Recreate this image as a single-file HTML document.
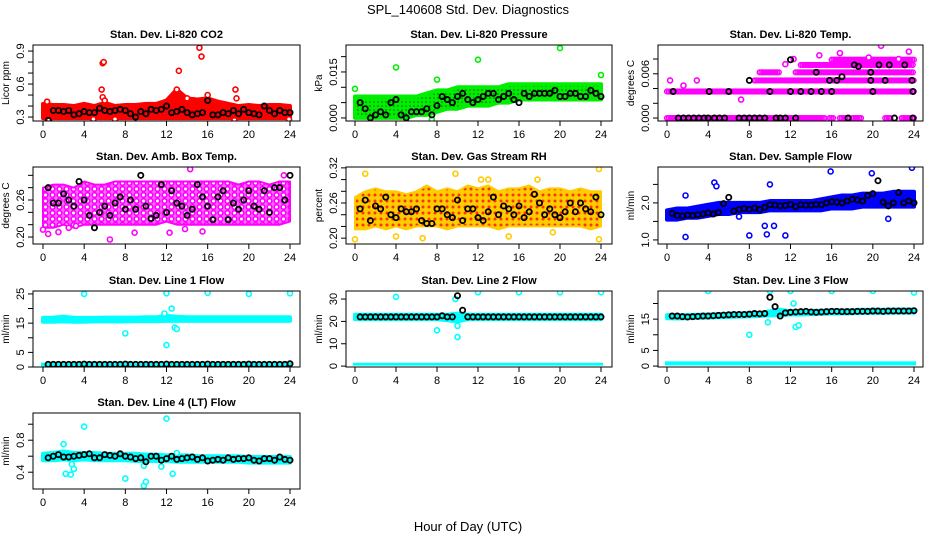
<!DOCTYPE html>
<html><head><meta charset="utf-8">
<style>
html,body{margin:0;padding:0;background:#fff;}
svg{display:block;font-family:"Liberation Sans",Arial,sans-serif;}
</style></head>
<body>
<svg id="chart" width="936" height="540" viewBox="0 0 936 540">
<defs>
<pattern id="pat-mag" patternUnits="userSpaceOnUse" width="7" height="6">
<rect width="7" height="6" fill="#ff66ff"/>
<circle cx="3.5" cy="3" r="2.3" fill="#fff" stroke="#ff00ff" stroke-width="1.6"/>
</pattern>
<pattern id="pat-rh" patternUnits="userSpaceOnUse" width="6" height="6">
<rect width="6" height="6" fill="#ffcc00"/>
<circle cx="3" cy="3" r="2.2" fill="#ff3300" stroke="#ffcc00" stroke-width="1.4"/>
</pattern>
<pattern id="pat-green" patternUnits="userSpaceOnUse" width="4" height="4">
<rect width="4" height="4" fill="#00ee00"/>
<circle cx="2" cy="2" r="0.8" fill="#006600"/>
</pattern>
</defs>
<text x="468" y="14" font-size="13" text-anchor="middle">SPL_140608  Std. Dev. Diagnostics</text>
<text x="468" y="531" font-size="13" text-anchor="middle">Hour of Day (UTC)</text>
</svg>
<script>
// ---- data ----
const hours = [0,4,8,12,16,20,24];
// CO2
const co2Lo = [0.29,0.29,0.29,0.29,0.29,0.29,0.29,0.29,0.29,0.29,0.29,0.29,0.29,0.29,0.29,0.29,0.29,0.29,0.29,0.29,0.29,0.29,0.29,0.29,0.29];
const co2Hi = [0.42,0.41,0.41,0.40,0.42,0.40,0.43,0.40,0.41,0.41,0.42,0.42,0.45,0.55,0.47,0.46,0.47,0.44,0.42,0.40,0.41,0.40,0.41,0.41,0.40];
const co2Black = [0.27,0.36,0.36,0.35,0.36,0.32,0.33,0.35,0.34,0.34,0.38,0.36,0.35,0.36,0.37,0.36,0.33,0.30,0.35,0.33,0.37,0.36,0.37,0.40,0.34,0.35,0.37,0.34,0.32,0.33,0.34,0.45,0.32,0.32,0.34,0.33,0.36,0.33,0.37,0.34,0.33,0.32,0.40,0.36,0.33,0.36,0.34,0.34];
const co2OutX = [0.4,5.8,5.9,5.7,5.8,6.0,13.2,13.0,15.2,15.4,16.0,18.7,18.8,14.0,4.9,7.0,18.6,23.9,0.6];
const co2OutY = [0.44,0.79,0.80,0.55,0.48,0.45,0.72,0.55,0.93,0.85,0.50,0.55,0.47,0.47,0.28,0.28,0.27,0.28,0.27];
// Pressure
const prLo = [0.000,0.000,0.000,0.000,0.000,0.000,0.001,0.001,0.002,0.003,0.003,0.004,0.004,0.004,0.005,0.005,0.006,0.006,0.006,0.006,0.006,0.006,0.006,0.006,0.006];
const prHi = [0.007,0.007,0.007,0.007,0.007,0.007,0.007,0.008,0.009,0.009,0.010,0.010,0.010,0.010,0.010,0.011,0.011,0.011,0.011,0.011,0.011,0.011,0.011,0.011,0.011];
const prBlack = [0.005,0.003,0.000,0.001,0.002,0.001,0.005,0.006,0.001,0.000,0.002,0.002,0.002,0.003,0.001,0.004,0.007,0.006,0.005,0.007,0.008,0.006,0.005,0.006,0.007,0.008,0.008,0.006,0.007,0.008,0.006,0.005,0.008,0.007,0.008,0.008,0.008,0.008,0.009,0.007,0.007,0.008,0.008,0.007,0.007,0.009,0.008,0.007];
const prOutX = [0,4.0,8.0,12.0,20.0,24.0,7.5];
const prOutY = [0.0095,0.0165,0.0125,0.019,0.0228,0.014,-0.0005];
// Li-820 Temp (discrete levels)
const tSegX0 = [0,15.8,16.8,18,21.2,22.8, 0,8.5, 9,12.5, 13,16];
const tSegX1 = [15.3,16.3,17.5,19,21.8,24, 24,24, 11,24, 24,24];
const tSegY  = [0,0,0,0,0,0, 0.0036,0.0051, 0.0062,0.0062, 0.0072,0.0079];
const tBlackX = [0.6,1.1,1.6,2.1,2.6,3.1,3.6,4.0,4.1,4.6,5.1,5.6,6.0,7.0,7.5,8.0,8.0,8.5,9.0,9.5,10.0,10.6,11.0,11.5,12.0,12.0,12.5,13.0,14.0,14.5,15.0,15.8,16.0,16.5,17.0,17.6,18.2,18.6,19.8,19.8,20.0,20.6,21.2,21.6,22.1,23.1,23.8,23.9,23.9];
const tBlackY = [0.0036,0,0,0,0,0,0,0,0.0036,0,0,0,0.0036,0,0,0,0.0051,0,0,0,0.0036,0,0,0,0.0036,0.0079,0,0.0036,0.0036,0.0062,0.0036,0.0051,0.0036,0.0051,0.0056,0,0.0072,0.0070,0.0062,0.0051,0.0036,0.0072,0.0051,0.0072,0,0.0072,0.0051,0.0036,0];
const tOutX = [0.3,1.6,2.9,7.2,11.5,12.3,14.8,16.8,19.6,20.8,22.5,23.5];
const tOutY = [0.0051,0.0044,0.0051,0.0025,0.0073,0.0080,0.0085,0.0088,0.0082,0.0098,0.0080,0.0090];
// Amb box temp
const abLo = [0.215,0.215,0.22,0.215,0.22,0.22,0.22,0.22,0.22,0.22,0.22,0.22,0.225,0.22,0.22,0.22,0.22,0.22,0.22,0.22,0.22,0.22,0.22,0.22,0.225];
const abHi = [0.28,0.285,0.285,0.28,0.29,0.285,0.285,0.29,0.29,0.29,0.29,0.29,0.29,0.29,0.29,0.29,0.29,0.29,0.29,0.285,0.29,0.29,0.285,0.29,0.29];
const abBlack = [0.28,0.255,0.255,0.27,0.26,0.25,0.29,0.26,0.235,0.215,0.24,0.25,0.235,0.255,0.265,0.245,0.26,0.245,0.30,0.25,0.23,0.235,0.285,0.24,0.275,0.255,0.25,0.235,0.245,0.285,0.265,0.25,0.228,0.265,0.275,0.228,0.255,0.245,0.26,0.275,0.25,0.245,0.275,0.24,0.28,0.28,0.26,0.30];
const abOutX = [0,0.5,1.5,2.5,3.2,6.5,8.9,12.3,13.8,15.5,14.3,23.4];
const abOutY = [0.212,0.205,0.208,0.215,0.218,0.196,0.207,0.207,0.213,0.209,0.31,0.30];
// Gas stream RH
const rhLo = [0.215,0.215,0.22,0.215,0.22,0.215,0.22,0.22,0.22,0.215,0.22,0.22,0.22,0.22,0.215,0.22,0.22,0.22,0.22,0.22,0.22,0.22,0.22,0.215,0.22];
const rhHi = [0.27,0.28,0.285,0.28,0.28,0.275,0.28,0.29,0.28,0.285,0.28,0.29,0.285,0.29,0.28,0.285,0.285,0.29,0.28,0.285,0.285,0.28,0.285,0.28,0.28];
const rhBlack = [0.25,0.265,0.23,0.255,0.25,0.27,0.24,0.235,0.25,0.245,0.245,0.25,0.23,0.225,0.225,0.25,0.25,0.24,0.235,0.265,0.23,0.25,0.25,0.235,0.23,0.245,0.27,0.24,0.255,0.25,0.24,0.255,0.235,0.245,0.275,0.26,0.24,0.25,0.24,0.235,0.245,0.26,0.245,0.26,0.25,0.245,0.27,0.24];
const rhOutX = [0,1.0,6.6,9.8,12.3,13.0,17.8,19.3,23.8,23.8,4.0,15.0];
const rhOutY = [0.198,0.31,0.20,0.31,0.30,0.30,0.30,0.21,0.318,0.198,0.203,0.203];
// Sample flow
const sfLo = [1.55,1.55,1.6,1.6,1.65,1.7,1.7,1.75,1.75,1.75,1.8,1.8,1.8,1.8,1.8,1.8,1.85,1.85,1.85,1.9,1.9,1.9,1.9,1.9,1.9];
const sfHi = [1.8,1.85,1.85,1.9,1.95,2.0,2.0,2.0,2.0,2.0,2.05,2.05,2.05,2.05,2.05,2.1,2.15,2.2,2.2,2.25,2.25,2.25,2.3,2.3,2.3];
const sfBlack = [1.72,1.66,1.65,1.67,1.66,1.68,1.70,1.73,1.70,1.74,1.98,2.15,1.78,1.82,1.85,1.83,1.86,1.82,1.88,1.95,1.94,1.92,1.93,1.96,1.90,1.95,1.94,1.94,1.96,1.95,2.00,2.03,2.02,2.00,2.05,2.10,2.08,2.05,2.20,2.25,2.60,2.02,1.92,2.00,2.28,2.00,2.05,2.00];
const sfOutX = [1.8,4.6,4.8,7.0,8.0,9.5,9.7,10.0,10.4,15.9,19.9,21.5,23.8,1.8,11.5];
const sfOutY = [2.20,2.55,2.45,1.63,1.12,1.38,1.15,2.50,1.38,2.85,2.80,1.57,2.95,1.08,1.12];
// Line 1 flow
const l1Lo = [15.5,15.5,15.6,15.5,15.5,15.6,15.6,15.6,15.6,15.7,15.7,15.7,15.8,15.8,15.8,15.8,15.8,15.8,15.8,15.8,15.8,15.8,15.8,15.8,15.8];
const l1Hi = [16.8,16.9,17.2,16.8,16.8,16.8,16.9,16.9,16.9,16.9,17.0,17.0,17.5,17.2,17.0,17.0,17.0,17.0,17.0,17.0,17.0,17.0,17.0,17.0,17.0];
const l1Black = [0.9,0.9,0.9,0.9,0.9,0.9,0.9,1.0,0.9,0.9,0.9,0.9,0.9,0.9,0.9,1.0,0.9,0.9,0.9,0.9,0.9,0.9,0.9,1.0,0.9,0.9,0.9,0.9,0.9,0.9,0.9,1.0,0.9,0.9,0.9,0.9,0.9,0.9,0.9,1.0,0.9,0.9,0.9,0.9,0.9,0.9,0.9,1.1];
const l1OutX = [4,12,16,20,24,8,12,12.5,12.8,13,11.8];
const l1OutY = [25,25.2,25.4,25,25.2,11.5,7.5,20,13.5,13,18.3];
// Line 2 flow
const l2Lo = [21,21,21,21,21,21,21,21,21,20.5,20,21,21,21,21,21,21,21,21,21,21,21,21,21,21];
const l2Hi = [23,23,23,23,23,23,23,23,23,23,23.5,23,23,23,23,23,23,23,23,23,23,23,23,23,23];
const l2Black = [22,22,22,22,22,22,22,22,22,22,22,22,22,22,22,22,22.5,22,22,31.5,25,22,22,22,22,22,22,22,22,22,22,22,22,22,22,22,22,22,22,22,22,22,22,22,22,22,22,22];
const l2OutX = [4,9.8,12,16,20,24,8,10,10];
const l2OutY = [31,30,33,33,33,33,16,13,18];
// Line 3 flow
const l3Lo = [15.3,15.2,15.3,15.4,15.5,15.6,15.7,15.8,15.9,16.0,16.2,16.3,16.5,16.5,16.6,16.7,16.8,16.8,16.9,17.0,17.0,17.0,17.1,17.1,17.1];
const l3Hi = [16.3,16.2,16.3,16.4,16.5,16.6,16.7,16.8,16.9,17.0,17.5,18.0,17.5,17.5,17.6,17.7,17.8,17.8,17.9,18.0,18.0,18.0,18.1,18.1,18.1];
const l3Black = [16,16,15.8,15.7,15.8,15.9,16.0,16.0,16.1,16.2,16.3,16.4,16.5,16.5,16.5,16.6,16.8,16.7,16.8,22,19,16,17,17.2,17.3,17.4,17.5,17.3,17.2,17.3,17.4,17.5,17.5,17.4,17.4,17.4,17.5,17.5,17.5,17.6,17.6,17.5,17.6,17.6,17.6,17.6,17.6,17.7];
const l3OutX = [4,10,12,16,20,24,8,9.8,12.3,12.5,12.8];
const l3OutY = [24,24,24,24,24,23.5,10,14,20,12.5,13];
// Line 4 (LT) flow
const l4Lo = [0.55,0.55,0.56,0.55,0.56,0.55,0.55,0.55,0.55,0.54,0.54,0.54,0.54,0.53,0.53,0.53,0.53,0.53,0.53,0.53,0.52,0.52,0.52,0.52,0.52];
const l4Hi = [0.63,0.64,0.66,0.64,0.64,0.64,0.63,0.63,0.63,0.63,0.62,0.62,0.61,0.61,0.61,0.60,0.60,0.60,0.60,0.60,0.59,0.59,0.59,0.59,0.59];
const l4Black = [0.58,0.60,0.62,0.59,0.59,0.60,0.61,0.62,0.63,0.58,0.58,0.62,0.61,0.60,0.63,0.60,0.59,0.57,0.58,0.53,0.60,0.60,0.55,0.57,0.60,0.56,0.57,0.58,0.59,0.56,0.58,0.54,0.55,0.56,0.55,0.58,0.56,0.57,0.57,0.58,0.55,0.54,0.57,0.57,0.55,0.59,0.56,0.55];
const l4OutX = [2,2.2,2.7,2.8,3,4,8,9.8,10,12,12.6,13,11.5,9.8];
const l4OutY = [0.75,0.38,0.37,0.50,0.44,0.97,0.32,0.23,0.28,1.07,0.38,0.64,0.47,0.48];

// ---- layout ----
const NS = "http://www.w3.org/2000/svg";
const svg = document.getElementById('chart');
const cols = [{l:33,r:300,x0:43,x24:290},{l:346,r:612,x0:355,x24:601},{l:658,r:923,x0:667,x24:914}];
const rows = [{t:45,b:121},{t:167,b:244},{t:291,b:367},{t:413,b:489}];

const panels = [
 {key:'co2',title:'Stan. Dev. Li-820 CO2',ylab:'Licor ppm',c:0,r:0,ymin:0.264,ymax:0.955,ticks:[0.3,0.4,0.5,0.6,0.7,0.8,0.9],labels:['0.3','','','0.6','','','0.9'],col:'#ff0000',fill:'#ff0000',sw:4,lo:co2Lo,hi:co2Hi,black:co2Black,ox:co2OutX,oy:co2OutY},
 {key:'pressure',title:'Stan. Dev. Li-820 Pressure',ylab:'kPa',c:1,r:0,ymin:-0.001,ymax:0.0238,ticks:[0,0.005,0.01,0.015,0.02],labels:['0.000','','','0.015',''],col:'#00ee00',fill:'url(#pat-green)',sw:4,lo:prLo,hi:prHi,black:prBlack,ox:prOutX,oy:prOutY},
 {key:'temp',title:'Stan. Dev. Li-820 Temp.',ylab:'degrees C',c:2,r:0,ymin:-0.0004,ymax:0.0099,ticks:[0,0.002,0.004,0.006,0.008],labels:['0.000','','','0.006',''],col:'#ff00ff',seg:true,ox:tOutX,oy:tOutY,bx:tBlackX,by:tBlackY},
 {key:'ambbox',title:'Stan. Dev. Amb. Box Temp.',ylab:'degrees C',c:0,r:1,ymin:0.1887,ymax:0.3135,ticks:[0.20,0.22,0.24,0.26,0.28,0.30],labels:['0.20','','','0.26','',''],col:'#ff00ff',fill:'url(#pat-mag)',sw:2,lo:abLo,hi:abHi,black:abBlack,ox:abOutX,oy:abOutY},
 {key:'rh',title:'Stan. Dev. Gas Stream RH',ylab:'percent',c:1,r:1,ymin:0.19,ymax:0.3215,ticks:[0.20,0.22,0.24,0.26,0.28,0.30,0.32],labels:['0.20','','','0.26','','','0.32'],col:'#ffcc00',fill:'url(#pat-rh)',sw:2,lo:rhLo,hi:rhHi,black:rhBlack,ox:rhOutX,oy:rhOutY},
 {key:'sampleflow',title:'Stan. Dev. Sample Flow',ylab:'ml/min',c:2,r:1,ymin:0.89,ymax:2.97,ticks:[1.0,1.5,2.0,2.5],labels:['1.0','','2.0',''],col:'#0000ff',fill:'#0000ff',sw:4,lo:sfLo,hi:sfHi,black:sfBlack,ox:sfOutX,oy:sfOutY},
 {key:'line1',title:'Stan. Dev. Line 1 Flow',ylab:'ml/min',c:0,r:2,ymin:0,ymax:26,ticks:[0,5,10,15,20,25],labels:['0','5','','15','','25'],col:'#00ffff',fill:'#00ffff',sw:4,lo:l1Lo,hi:l1Hi,black:l1Black,ox:l1OutX,oy:l1OutY,row0:true},
 {key:'line2',title:'Stan. Dev. Line 2 Flow',ylab:'ml/min',c:1,r:2,ymin:-0.4,ymax:33.6,ticks:[0,10,20,30],labels:['0','10','20','30'],col:'#00ffff',fill:'#00ffff',sw:4,lo:l2Lo,hi:l2Hi,black:l2Black,ox:l2OutX,oy:l2OutY,row0:true},
 {key:'line3',title:'Stan. Dev. Line 3 Flow',ylab:'ml/min',c:2,r:2,ymin:-0.3,ymax:24,ticks:[0,5,10,15,20],labels:['0','5','','15',''],col:'#00ffff',fill:'#00ffff',sw:4,lo:l3Lo,hi:l3Hi,black:l3Black,ox:l3OutX,oy:l3OutY,row0:true},
 {key:'line4',title:'Stan. Dev. Line 4 (LT) Flow',ylab:'ml/min',c:0,r:3,ymin:0.19,ymax:1.14,ticks:[0.4,0.6,0.8,1.0],labels:['0.4','','0.8',''],col:'#00ffff',fill:'#00ffff',sw:4,lo:l4Lo,hi:l4Hi,black:l4Black,ox:l4OutX,oy:l4OutY}
];

function mk(tag, attrs, parent){
  const e = document.createElementNS(NS, tag);
  for (const k in attrs) e.setAttribute(k, attrs[k]);
  (parent||svg).appendChild(e);
  return e;
}

panels.forEach(p=>{
  const C = cols[p.c], R = rows[p.r];
  const xs = h => C.x0 + (C.x24 - C.x0) * h / 24;
  const ys = v => R.b - (R.b - R.t) * (v - p.ymin) / (p.ymax - p.ymin);
  const g = mk('g', {});
  
  
  const clip = mk('clipPath', {id:'clip-'+p.key}, g);
  mk('rect', {x:C.l, y:R.t, width:C.r-C.l, height:R.b-R.t}, clip);
  const marks = mk('g', {'clip-path':'url(#clip-'+p.key+')'}, g);
  
  

  if (p.seg) {
    for (let i=0;i<tSegX0.length;i++){
      for (let h=tSegX0[i]; h<=tSegX1[i]+1e-9; h+=0.17){
        const c = mk('circle', {cx:xs(h), cy:ys(tSegY[i]), r:2.4, fill:'none', stroke:p.col, 'stroke-width':1.4}, marks);
        
        
      }
    }
  } else {
    let pts = [];
    for (let i=0;i<p.lo.length;i++) pts.push(xs(i)+','+ys(p.hi[i]));
    for (let i=p.lo.length-1;i>=0;i--) pts.push(xs(i)+','+ys(p.lo[i]));
    const band = mk('polygon', {points:pts.join(' '), fill:p.fill, stroke:p.col, 'stroke-width':p.sw, 'stroke-linejoin':'round'}, marks);
    
    
    if (p.row0) {
      const rb = mk('rect', {x:xs(0)-2, y:ys(1.5), width:xs(24)-xs(0)+4, height:ys(0.2)-ys(1.5), fill:p.col}, marks);
      
      
    }
  }
  for (let i=0;i<p.ox.length;i++){
    const c = mk('circle', {cx:xs(p.ox[i]), cy:ys(p.oy[i]), r:2.5, fill:'#fff', stroke:p.col, 'stroke-width':1.6}, marks);
    
    
  }
  const bx = p.bx || p.black.map((v,i)=>0.5 + i*0.5);
  const by = p.by || p.black;
  for (let i=0;i<bx.length;i++){
    const c = mk('circle', {cx:xs(bx[i]), cy:ys(by[i]), r:2.6, fill:'none', stroke:'#000', 'stroke-width':1.8}, marks);
    
    
  }
  const box = mk('rect', {x:C.l, y:R.t, width:C.r-C.l, height:R.b-R.t, fill:'none', stroke:'#000', 'stroke-width':1}, g);
  
  
  const xa = mk('g', {}, g);
  
  
  mk('line', {x1:xs(0), x2:xs(24), y1:R.b, y2:R.b, stroke:'#000'}, xa);
  hours.forEach(h=>{
    mk('line', {x1:xs(h), x2:xs(h), y1:R.b, y2:R.b+5, stroke:'#000'}, xa);
    const t = mk('text', {x:xs(h), y:R.b+17, 'font-size':11, 'text-anchor':'middle'}, xa);
    t.textContent = h;
    
    
  });
  const ya = mk('g', {}, g);
  
  
  mk('line', {x1:C.l, x2:C.l, y1:ys(p.ticks[0]), y2:ys(p.ticks[p.ticks.length-1]), stroke:'#000'}, ya);
  p.ticks.forEach((v,i)=>{
    mk('line', {x1:C.l-5, x2:C.l, y1:ys(v), y2:ys(v), stroke:'#000'}, ya);
    if (p.labels[i]) {
      const t = mk('text', {x:0, y:0, 'font-size':11, 'text-anchor':'middle', transform:'translate('+(C.l-9)+','+ys(v)+') rotate(-90)'}, ya);
      t.textContent = p.labels[i];
      
      
    }
  });
  const yl = mk('text', {x:0, y:0, 'font-size':10, 'text-anchor':'middle', transform:'translate('+(C.l-24)+','+((R.t+R.b)/2)+') rotate(-90)'}, g);
  yl.textContent = p.ylab;
  
  
  const tt = mk('text', {x:(C.l+C.r)/2, y:R.t-7, 'font-size':11, 'font-weight':'bold', 'text-anchor':'middle'}, g);
  tt.textContent = p.title;
  
  
});
</script>
</body></html>
